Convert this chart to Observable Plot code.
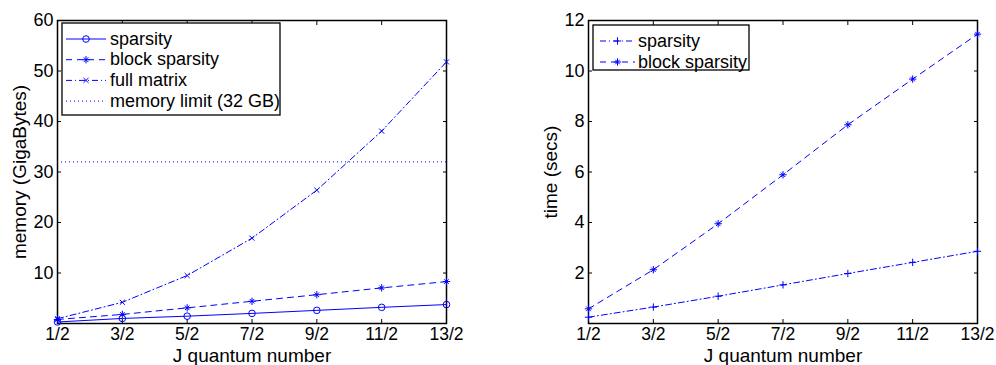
<!DOCTYPE html>
<html><head><meta charset="utf-8">
<script src="https://cdn.jsdelivr.net/npm/d3@7"></script>
<script src="https://cdn.jsdelivr.net/npm/@observablehq/plot@0.6"></script>
<style>
body{margin:0;background:#fff}
#row{display:flex;width:996px;height:365px}
#row svg{display:block}
</style>
</head><body><div id="row"></div>
<script>
// ---- data ----
const J = [0.5, 1.5, 2.5, 3.5, 4.5, 5.5, 6.5];
const jLabels = ["1/2", "3/2", "5/2", "7/2", "9/2", "11/2", "13/2"];
const memSparsity = [0.3, 1.0, 1.45, 2.0, 2.6, 3.2, 3.75];
const memBlock = [0.8, 1.8, 3.1, 4.4, 5.7, 7.05, 8.3];
const memFull = [0.95, 4.2, 9.5, 16.9, 26.4, 38.1, 51.8];
const memLimit = [32];
const timeSparsity = [0.25, 0.65, 1.08, 1.53, 1.98, 2.42, 2.86];
const timeBlock = [0.58, 2.13, 3.95, 5.89, 7.87, 9.68, 11.46];
const memTicks = [10, 20, 30, 40, 50, 60];
const timeTicks = [2, 4, 6, 8, 10, 12];
const memLegend = ["sparsity", "block sparsity", "full matrix", "memory limit (32 GB)"];
const timeLegend = ["sparsity", "block sparsity"];

const BLUE = "#0000ff";
const FONT = "'Liberation Sans', Arial, Helvetica, sans-serif";
const STYLES = {
  solid: null,
  dashed: "6,5",
  dashdot: "6,3,1,3",
  dotted: "1,3"
};
const fmtJ = v => jLabels[J.indexOf(v)];

function markerMarks(data, marker) {
  const base = {x: "j", y: "v", stroke: BLUE, strokeWidth: 1};
  if (marker === "circle") return [Plot.dot(data, {...base, symbol: "circle", r: 3.3, fill: "none"})];
  if (marker === "times") return [Plot.dot(data, {...base, symbol: "times", r: 2.4})];
  if (marker === "plus") return [Plot.dot(data, {...base, symbol: "plus", r: 2.5})];
  if (marker === "asterisk") return [
    Plot.dot(data, {...base, symbol: "plus", r: 2.5}),
    Plot.dot(data, {...base, symbol: "times", r: 2.2})
  ];
  return [];
}

function legendSymbol(g, marker, cx, cy) {
  const draw = (type, r) => g.append("path")
    .attr("d", d3.symbol().type(type).size(Math.PI * r * r)())
    .attr("transform", `translate(${cx},${cy})`)
    .attr("fill", "none").attr("stroke", BLUE).attr("stroke-width", 1);
  if (marker === "circle") draw(d3.symbolCircle, 3.3);
  if (marker === "times") draw(d3.symbolTimes, 2.4);
  if (marker === "plus") draw(d3.symbolPlus, 2.5);
  if (marker === "asterisk") { draw(d3.symbolPlus, 2.5); draw(d3.symbolTimes, 2.2); }
}

function panel({marginLeft, marginRight, yDomain, yTicks, series, ylabel, legend}) {
  const marks = [
    Plot.frame({stroke: "black", strokeWidth: 1.5}),
    // inward ticks on all four sides
    Plot.axisX(J, {anchor: "bottom", tickSize: 4, dy: -4, tickFormat: () => "", label: null, strokeWidth: 1}),
    Plot.axisX(J, {anchor: "top", tickSize: 4, dy: 4, tickFormat: () => "", label: null, strokeWidth: 1}),
    Plot.axisY(yTicks, {anchor: "left", tickSize: 4, dx: 4, tickFormat: () => "", label: null, strokeWidth: 1}),
    Plot.axisY(yTicks, {anchor: "right", tickSize: 4, dx: -4, tickFormat: () => "", label: null, strokeWidth: 1}),
    // tick labels
    Plot.axisX(J, {anchor: "bottom", tickSize: 0, tickPadding: 4, tickFormat: fmtJ, label: null, fill: "black", fontSize: 17.5}),
    Plot.axisY(yTicks, {anchor: "left", tickSize: 0, tickPadding: 4, label: null, fill: "black", fontSize: 18}),
    // axis titles
    Plot.text(["J quantum number"], {text: d => d, frameAnchor: "bottom", dy: 32, lineAnchor: "middle", textAnchor: "middle", fill: "black", fontSize: 19}),
    Plot.text([ylabel], {text: d => d, frameAnchor: "left", rotate: -90, dx: -38, lineAnchor: "middle", textAnchor: "middle", fill: "black", fontSize: 19})
  ];
  for (const s of series) {
    if (s.rule) {
      marks.push(Plot.ruleY(s.rule, {stroke: BLUE, strokeWidth: 1, strokeDasharray: STYLES[s.style]}));
      continue;
    }
    const data = J.map((j, i) => ({j, v: s.values[i]}));
    marks.push(Plot.line(data, {x: "j", y: "v", stroke: BLUE, strokeWidth: 1, strokeDasharray: STYLES[s.style]}));
    marks.push(...markerMarks(data, s.marker));
  }
  const svg = Plot.plot({
    width: 498, height: 365,
    marginLeft, marginRight, marginTop: 20, marginBottom: 42,
    style: {fontFamily: FONT, fontSize: "18px", color: "black", background: "white"},
    x: {domain: [0.5, 6.5]},
    y: {domain: yDomain},
    marks
  });
  // legend box (pixel layout)
  const g = d3.select(svg).append("g")
    .attr("font-family", FONT).attr("font-size", 18).attr("text-anchor", "start");
  g.append("rect").attr("x", legend.x).attr("y", legend.y).attr("width", legend.w).attr("height", legend.h)
    .attr("fill", "white").attr("stroke", "black").attr("stroke-width", 1.3);
  series.forEach((s, i) => {
    const cy = legend.y + 16 + i * legend.step;
    g.append("line").attr("x1", legend.lx1).attr("x2", legend.lx2).attr("y1", cy).attr("y2", cy)
      .attr("stroke", BLUE).attr("stroke-width", 1).attr("stroke-dasharray", STYLES[s.style]);
    if (s.marker) legendSymbol(g, s.marker, (legend.lx1 + legend.lx2) / 2, cy);
    g.append("text").attr("x", legend.tx).attr("y", cy + 5.5).attr("fill", "black")
      .attr("text-anchor", "start").text(legend.labels[i]);
  });
  return svg;
}

const row = document.getElementById("row");
row.appendChild(panel({
  marginLeft: 57, marginRight: 52,
  yDomain: [0, 60], yTicks: memTicks,
  ylabel: "memory (GigaBytes)",
  series: [
    {values: memSparsity, style: "solid", marker: "circle"},
    {values: memBlock, style: "dashed", marker: "asterisk"},
    {values: memFull, style: "dashdot", marker: "times"},
    {rule: memLimit, style: "dotted"}
  ],
  legend: {x: 62, y: 23, w: 218, h: 92, step: 20.7, lx1: 66, lx2: 106, tx: 110, labels: memLegend}
}));
row.appendChild(panel({
  marginLeft: 90, marginRight: 19,
  yDomain: [0, 12], yTicks: timeTicks,
  ylabel: "time (secs)",
  series: [
    {values: timeSparsity, style: "dashdot", marker: "plus"},
    {values: timeBlock, style: "dashed", marker: "asterisk"}
  ],
  legend: {x: 95, y: 25, w: 156, h: 45, step: 21, lx1: 102, lx2: 137, tx: 140, labels: timeLegend}
}));
</script>
</body></html>
